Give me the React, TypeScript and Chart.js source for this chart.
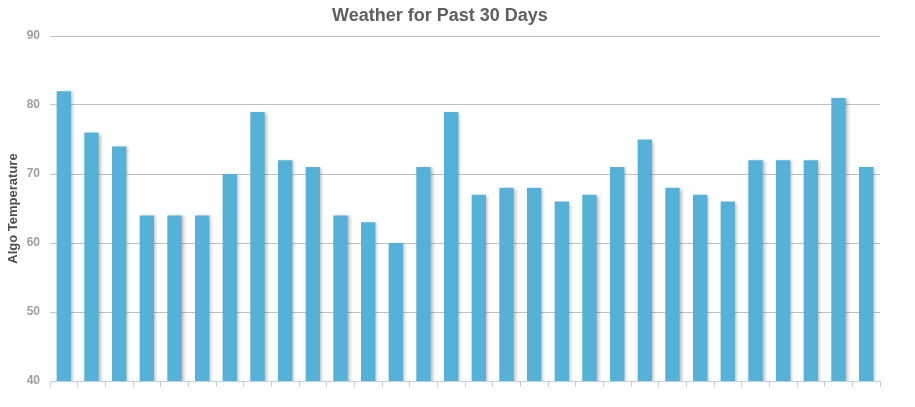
import React, { useEffect, useRef } from "react";
import { Chart, registerables } from "chart.js";

Chart.register(...registerables);

const titleText = "Weather for Past 30 Days";
const yAxisTitle = "Algo Temperature";
const days = Array.from({ length: 30 }, (_, i) => `Day ${i + 1}`);
const temperatures = [
  82, 76, 74, 64, 64, 64, 70, 79, 72, 71,
  64, 63, 60, 71, 79, 67, 68, 68, 66, 67,
  71, 75, 68, 67, 66, 72, 72, 72, 81, 71,
];
const yMin = 40;
const yMax = 90;
const yStep = 10;

const shadowPlugin = {
  id: "barShadow",
  beforeDatasetDraw(chart: any) {
    const ctx = chart.ctx;
    ctx.save();
    ctx.shadowColor = "rgba(0,0,0,0.25)";
    ctx.shadowOffsetX = 2;
    ctx.shadowOffsetY = 1;
    ctx.shadowBlur = 3;
  },
  afterDatasetDraw(chart: any) {
    chart.ctx.restore();
  },
};

export default function App() {
  const ref = useRef<HTMLCanvasElement>(null);
  useEffect(() => {
    if (!ref.current) return;
    const chart = new Chart(ref.current, {
      type: "bar",
      data: {
        labels: days,
        datasets: [
          {
            data: temperatures,
            backgroundColor: "#56b1d8",
            borderWidth: 0,
            barPercentage: 0.52,
            categoryPercentage: 1,
          },
        ],
      },
      options: {
        responsive: false,
        animation: false,
        layout: { padding: { left: 0, right: 35, top: 0, bottom: 0 } },
        plugins: {
          legend: { display: false },
          tooltip: { enabled: false },
          title: {
            display: true,
            text: titleText,
            color: "#5f5f5f",
            font: { family: "Arial, 'Liberation Sans', sans-serif", size: 18, weight: "bold", lineHeight: 1.2 },
            padding: { top: 5, bottom: 9.4 },
          },
        },
        scales: {
          x: {
            offset: true,
            grid: {
              offset: true,
              drawOnChartArea: false,
              drawTicks: true,
              tickLength: 6,
              tickColor: "#c0d0e0",
            },
            border: { display: true, color: "#c0d0e0", width: 1 },
            ticks: { display: false },
            afterFit(scale: any) {
              scale.height = 26;
            },
          },
          y: {
            min: yMin,
            max: yMax,
            border: { display: false },
            grid: { color: "#c0c0c0", drawTicks: false, lineWidth: 1 },
            ticks: {
              stepSize: yStep,
              padding: 10,
              color: "#a0a0a0",
              font: { family: "Arial, 'Liberation Sans', sans-serif", size: 12, weight: "bold" },
            },
            title: {
              display: true,
              text: yAxisTitle,
              color: "#4d4d4d",
              font: { family: "Arial, 'Liberation Sans', sans-serif", size: 13, weight: "bold" },
              padding: { top: 6, bottom: 0 },
            },
            afterFit(scale: any) {
              scale.width = 50;
            },
          },
        },
      },
      plugins: [shadowPlugin],
    });
    return () => chart.destroy();
  }, []);
  return (
    <div style={{ position: "fixed", left: 0, top: 0, width: 915, height: 407, background: "#fff" }}>
      <canvas ref={ref} width={915} height={407} style={{ width: 915, height: 407 }} />
    </div>
  );
}
